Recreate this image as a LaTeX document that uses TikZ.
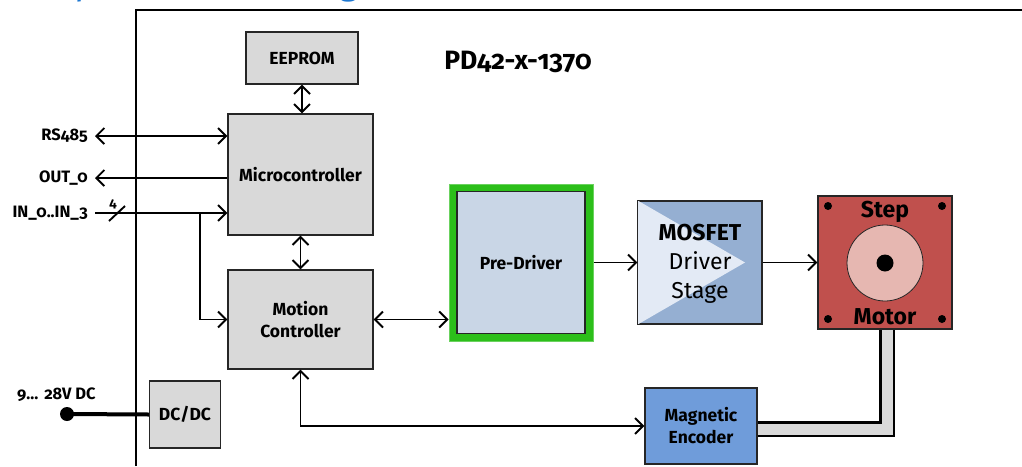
\documentclass[tikz,border=0pt]{standalone}
\usepackage{fontspec}
\setmainfont{Fira Sans}[Numbers=OldStyle]
\usetikzlibrary{arrows.meta}
\definecolor{boxgrey}{HTML}{D9D9D9}
\definecolor{predrv}{HTML}{C9D6E6}
\definecolor{greenframe}{HTML}{2CBF1A}
\definecolor{mosdark}{HTML}{95AFD2}
\definecolor{moslight}{HTML}{E3EAF5}
\definecolor{motorred}{HTML}{C0504D}
\definecolor{motorpink}{HTML}{E6B7B1}
\definecolor{encblue}{HTML}{6F9CDA}
\definecolor{titleblue}{HTML}{1E78D2}
\begin{document}
\begin{tikzpicture}[x=1pt,y=-1pt,
  box/.style={draw=black!85, line width=1.3pt, fill=boxgrey, align=center, inner sep=0pt,
    font=\bfseries\fontsize{17.5}{22}\selectfont},
  tip/.tip={Straight Barb[length=8pt,width=16pt]},
  ar/.style={line width=1.9pt, -tip},
  dar/.style={line width=1.9pt, tip-tip},
  sidelbl/.style={anchor=east, inner sep=0pt, font=\bfseries\fontsize{16.5}{18}\selectfont},
  motortxt/.style={inner sep=0pt, font=\bfseries\fontsize{23}{25}\selectfont},
  dot/.style={fill=black}
]
\useasboundingbox (0,0) rectangle (1022,466);
% cropped title
\begin{scope}
\clip (0,0) rectangle (1022,466);
\node[anchor=base west, inner sep=0pt, text=titleblue, font=\fontsize{36}{40}\selectfont] (title) at (14,-6) {Simplified Block Diagram};
\end{scope}
% frame
\draw[line width=2.5pt] (136,466) -- (136,10) -- (1022,10);
% header
\node[inner sep=0pt, font=\bfseries\fontsize{26.5}{29}\selectfont] (pd) at (518,62) {PD42-x-1370};
% cable
\coordinate (cbtop) at (887,329);
\coordinate (cbcorner) at (887,429);
\coordinate (cbend) at (757,429);
\draw[line width=16pt, line join=miter] (cbtop) -- (cbcorner) -- (cbend);
\draw[line width=11pt, boxgrey, line join=miter] (cbtop) -- (cbcorner) -- (cbend);
% boxes
\node[box, minimum width=112pt, minimum height=52pt] (eeprom) at (302,58) {EEPROM};
\node[box, minimum width=145pt, minimum height=121pt] (micro) at (300.5,174.5) {Microcontroller};
\node[box, minimum width=145pt, minimum height=99pt] (motion) at (300.5,319.5) {Motion\\Controller};
\node[box, minimum width=71pt, minimum height=67pt] (dcdc) at (185,414.5) {DC/DC};
\node[draw=greenframe!70!white, line width=1pt, fill=greenframe, minimum width=144pt, minimum height=157pt, inner sep=0pt] (pre) at (521,262.5) {};
\node[box, fill=predrv, minimum width=128pt, minimum height=142pt] (prein) at (521,262.5) {Pre-Driver};
\node[draw=black!85, line width=1.3pt, fill=mosdark, minimum width=124pt, minimum height=123pt, inner sep=0pt] (mos) at (700,262.5) {};
\fill[moslight] (mos.north west) -- (745,262.5) -- (mos.south west) -- cycle;
\draw[black!85, line width=1.3pt] (mos.north west) rectangle (mos.south east);
\node[align=center, inner sep=0pt, font=\fontsize{23}{29}\selectfont] (mostxt) at (700,264) {\textbf{MOSFET}\\Driver\\Stage};
\node[draw=black!85, line width=1.3pt, fill=motorred, minimum width=134pt, minimum height=133pt, inner sep=0pt] (motor) at (885,262.5) {};
\draw[black!85, line width=0.8pt, fill=motorpink] (885,263) circle (38pt);
\fill (885,263) circle (8.5pt);
\fill (828,206) circle (4pt);
\fill (942,206) circle (4pt);
\fill (828,319) circle (4pt);
\fill (942,319) circle (4pt);
\node[motortxt] (step) at (885,212) {Step};
\node[motortxt] (mtr) at (885,317) {Motor};
\node[box, fill=encblue, minimum width=112pt, minimum height=76pt] (enc) at (701,426) {Magnetic\\Encoder};
% connectors
\draw[dar] (eeprom.south) -- (eeprom.south |- micro.north);
\draw[dar] (micro.south) -- (motion.north);
\coordinate (rs) at (95,136);
\coordinate (out) at (95,178);
\coordinate (in) at (95,213);
\coordinate (br) at (200,213);
\draw[dar] (rs) -- (micro.west |- rs);
\draw[ar] (micro.west |- out) -- (out);
\draw[ar] (in) -- (micro.west |- in);
\draw[line width=1.9pt] (br) |- (motion.west);
\draw[ar] (br |- motion.west) -- (motion.west);
\coordinate (sl1) at (109,221);
\coordinate (sl2) at (125,206);
\draw[line width=1.9pt] (sl1) -- (sl2);
\node[inner sep=0pt, font=\bfseries\fontsize{13.5}{14}\selectfont] (four) at (113,204) {4};
\node[sidelbl] (lrs) at (88,136) {RS485};
\node[sidelbl] (lout) at (88,178) {OUT\_0};
\node[sidelbl] (lin) at (88,213) {IN\_0..IN\_3};
\draw[dar] (motion.east) -- (pre.west |- motion.east);
\draw[ar] (pre.east) -- (mos.west);
\draw[ar] (mos.east) -- (motor.west);
\draw[dar] (motion.south) |- (enc.west);
% power
\coordinate (pw) at (67,414);
\draw[line width=4pt] (pw) -- (dcdc.west);
\fill (pw) circle (7pt);
\node[inner sep=0pt, anchor=west, font=\bfseries\fontsize{16.5}{18}\selectfont] (lpw) at (17,395) {9…\hspace{6pt}28V DC};
\end{tikzpicture}
\end{document}
